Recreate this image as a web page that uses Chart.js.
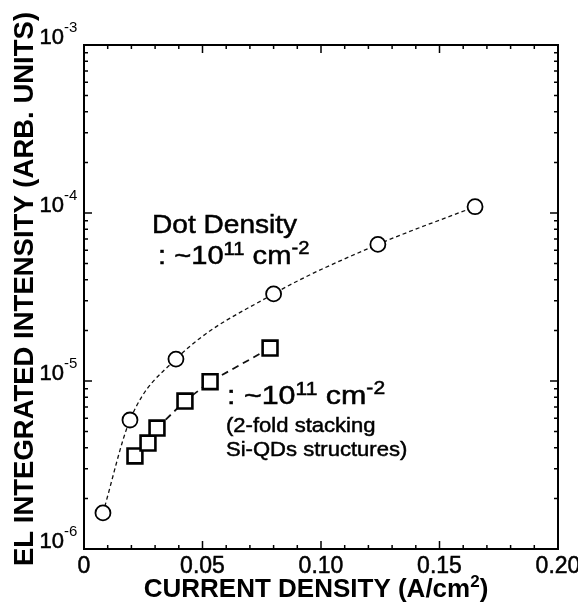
<!DOCTYPE html>
<html>
<head>
<meta charset="utf-8">
<script src="https://cdn.jsdelivr.net/npm/chart.js@4"></script>
<style>
  body { margin: 0; background: #fff; }
  canvas { display: block; }
</style>
</head>
<body>
<canvas id="elChart" width="578" height="606"></canvas>
<script>
// single layer dots (circles)
const singleX = [0.008, 0.0194, 0.0388, 0.080, 0.124, 0.165];
const singleY = [1.64e-6, 5.86e-6, 1.35e-5, 3.3e-5, 6.5e-5, 1.09e-4];
// 2-fold stacking (squares)
const stackX = [0.0215, 0.027, 0.0308, 0.0426, 0.0532, 0.0785];
const stackY = [3.58e-6, 4.27e-6, 5.25e-6, 7.6e-6, 9.9e-6, 1.57e-5];

const xTicks = [0, 0.05, 0.10, 0.15, 0.20];
const xTickLabels = ['0', '0.05', '0.10', '0.15', '0.20'];
const yExponents = [-6, -5, -4, -3];

const FONT = '"Liberation Sans", Arial, Helvetica, sans-serif';

function pts(xs, ys) {
    return xs.map((x, i) => ({ x: x, y: ys[i] }));
}

// text with superscripts: parts = [text, size, raise], stretched horizontally by sx
function richText(ctx, parts, x, y, bold, sx) {
    sx = sx || 1;
    ctx.save();
    ctx.translate(x, y);
    ctx.scale(sx, 1);
    let cx = 0;
    parts.forEach(p => {
        ctx.font = (bold ? 'bold ' : '') + p[1] + 'px ' + FONT;
        ctx.fillText(p[0], cx, -(p[2] || 0));
        if (!bold) {
            ctx.lineWidth = 0.5;
            ctx.strokeText(p[0], cx, -(p[2] || 0));
        }
        cx += ctx.measureText(p[0]).width;
    });
    ctx.restore();
    return cx * sx;
}

const axesPlugin = {
    id: 'axesPlugin',
    afterDraw(chart) {
        const ctx = chart.ctx;
        const a = chart.chartArea;
        const xs = chart.scales.x;
        const ys = chart.scales.y;
        ctx.save();
        ctx.strokeStyle = '#000';
        ctx.fillStyle = '#000';

        // frame
        ctx.lineWidth = 2;
        ctx.strokeRect(a.left, a.top, a.right - a.left, a.bottom - a.top);

        // x ticks, inward on bottom and top
        ctx.lineWidth = 1.5;
        for (let i = 0; i <= 20; i++) {
            const px = xs.getPixelForValue(i * 0.01);
            const len = (i % 5 === 0) ? 8 : 4;
            ctx.beginPath();
            ctx.moveTo(px, a.bottom); ctx.lineTo(px, a.bottom - len);
            ctx.moveTo(px, a.top); ctx.lineTo(px, a.top + len);
            ctx.stroke();
        }
        // y ticks, log decades with minors
        for (let e = -6; e <= -3; e++) {
            for (let m = 1; m <= 9; m++) {
                if (e === -3 && m > 1) break;
                const py = ys.getPixelForValue(m * Math.pow(10, e));
                const len = (m === 1) ? 8 : 4;
                ctx.beginPath();
                ctx.moveTo(a.left, py); ctx.lineTo(a.left + len, py);
                ctx.moveTo(a.right, py); ctx.lineTo(a.right - len, py);
                ctx.stroke();
            }
        }

        // x tick labels
        ctx.textAlign = 'center';
        ctx.textBaseline = 'alphabetic';
        ctx.font = '23px ' + FONT;
        ctx.lineWidth = 0.5;
        xTicks.forEach((v, i) => {
            const px = xs.getPixelForValue(v);
            ctx.fillText(xTickLabels[i], px, 573);
            ctx.strokeText(xTickLabels[i], px, 573);
        });

        // y tick labels 10^n
        yExponents.forEach(e => {
            const py = ys.getPixelForValue(Math.pow(10, e));
            ctx.textAlign = 'right';
            ctx.font = '22px ' + FONT;
            ctx.fillText('10', 64, py - 1);
            ctx.strokeText('10', 64, py - 1);
            ctx.textAlign = 'left';
            ctx.font = '15px ' + FONT;
            ctx.fillText('-' + Math.abs(e), 64, py - 13);
        });

        // x title
        ctx.textAlign = 'left';
        const xtParts = [['CURRENT DENSITY (A/cm', 26, 0], ['2', 17, 10], [')', 26, 0]];
        let w = 0;
        xtParts.forEach(p => { ctx.font = 'bold ' + p[1] + 'px ' + FONT; w += ctx.measureText(p[0]).width; });
        richText(ctx, xtParts, (a.left + a.right) / 2 - 5 - w / 2, 597, true);

        // y title
        ctx.save();
        ctx.translate(33, 289);
        ctx.rotate(-Math.PI / 2);
        ctx.textAlign = 'center';
        ctx.font = 'bold 27.5px ' + FONT;
        ctx.fillText('EL INTEGRATED INTENSITY (ARB. UNITS)', 0, 0);
        ctx.restore();

        // annotations
        ctx.textAlign = 'left';
        richText(ctx, [['Dot Density', 26, 0]], 152, 233, false, 1.08);
        richText(ctx, [[': ~10', 26, 0], ['11', 18, 9], [' cm', 26, 0], ['-2', 18, 10]], 158, 264, false, 1.12);
        richText(ctx, [[': ~10', 26, 0], ['11', 18, 9], [' cm', 26, 0], ['-2', 18, 10]], 227, 404, false, 1.17);
        richText(ctx, [['(2-fold stacking', 21, 0]], 226, 432, false, 1.05);
        richText(ctx, [['Si-QDs structures)', 21, 0]], 226, 456, false, 1.05);

        ctx.restore();
    }
};

const ctx1 = document.getElementById('elChart').getContext('2d');
const elChart = new Chart(ctx1, {
    type: 'scatter',
    data: {
        datasets: [{
            label: 'single',
            data: pts(singleX, singleY),
            showLine: true,
            cubicInterpolationMode: 'monotone',
            borderColor: '#111',
            borderWidth: 1.3,
            borderDash: [4, 3],
            pointStyle: 'circle',
            pointRadius: 7.5,
            pointBorderWidth: 1.8,
            pointBorderColor: '#000',
            pointBackgroundColor: '#fff'
        }, {
            label: '2-fold',
            data: pts(stackX, stackY),
            showLine: true,
            borderColor: '#111',
            borderWidth: 1.8,
            borderDash: [7, 5],
            pointStyle: 'rect',
            pointRadius: 10.5,
            pointBorderWidth: 2.6,
            pointBorderColor: '#000',
            pointBackgroundColor: '#fff'
        }]
    },
    options: {
        responsive: false,
        animation: false,
        devicePixelRatio: 1,
        layout: { padding: { left: 84, right: 20, top: 45, bottom: 57 } },
        plugins: {
            legend: { display: false },
            tooltip: { enabled: false }
        },
        scales: {
            x: { type: 'linear', display: false, min: 0, max: 0.2 },
            y: { type: 'logarithmic', display: false, min: 1e-6, max: 1e-3 }
        }
    },
    plugins: [axesPlugin]
});
</script>
</body>
</html>
